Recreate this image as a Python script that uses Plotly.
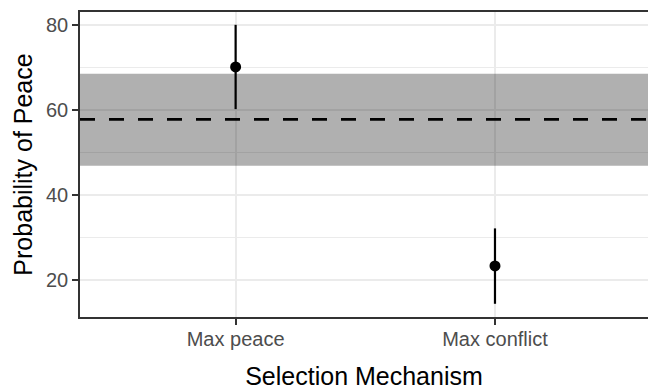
import plotly.graph_objects as go

categories = ["Max peace", "Max conflict"]
estimates = [70.1, 23.4]
upper = [80.0, 32.2]
lower = [60.2, 14.5]
baseline = 57.8
baseline_low = 46.9
baseline_high = 68.5

xpos = list(range(1, len(categories) + 1))
font_family = "Liberation Sans, Arial, sans-serif"

fig = go.Figure()

# error bars as line segments
for x, lo, hi in zip(xpos, lower, upper):
    fig.add_trace(go.Scatter(x=[x, x], y=[lo, hi], mode="lines",
                             line=dict(color="black", width=2.2), showlegend=False,
                             hoverinfo="skip"))
fig.add_trace(go.Scatter(x=xpos, y=estimates, mode="markers",
                         marker=dict(color="black", size=11), showlegend=False))

fig.add_shape(type="rect", xref="paper", x0=0, x1=1, yref="y",
              y0=baseline_low, y1=baseline_high, fillcolor="rgba(0,0,0,0.31)",
              line=dict(width=0), layer="above")
fig.add_shape(type="line", xref="paper", x0=0, x1=1, yref="y",
              y0=baseline, y1=baseline, line=dict(color="black", width=2.8, dash="15px,14px"),
              layer="above")

fig.update_layout(
    width=648, height=390,
    margin=dict(l=80, r=0, t=12, b=73),
    plot_bgcolor="white", paper_bgcolor="white",
    font=dict(family=font_family, color="black"),
    showlegend=False,
    xaxis=dict(
        tickmode="array", tickvals=xpos, ticktext=categories,
        range=[0.4, 2.59],
        showgrid=True, gridcolor="#EBEBEB", gridwidth=1.8,
        showline=True, linecolor="#333333", linewidth=1.6, mirror=True,
        ticks="outside", ticklen=6, tickcolor="#333333", tickwidth=1.6,
        ticklabelstandoff=-3,
        tickfont=dict(size=20, color="#4D4D4D", family=font_family),
        title=dict(text="Selection Mechanism", font=dict(size=25, color="black"), standoff=20),
        zeroline=False, automargin=False,
    ),
    yaxis=dict(
        range=[11.4, 83.0],
        tickvals=[20, 40, 60, 80],
        showgrid=True, gridcolor="#EBEBEB", gridwidth=1.8,
        minor=dict(tickvals=[30, 50, 70], showgrid=True, gridcolor="#EBEBEB", gridwidth=0.9, ticks=""),
        showline=True, linecolor="#333333", linewidth=1.6,
        ticks="outside", ticklen=6, tickcolor="#333333", tickwidth=1.6,
        tickfont=dict(size=20, color="#4D4D4D", family=font_family),
        title=dict(text="Probability of Peace", font=dict(size=25, color="black"), standoff=6),
        zeroline=False, automargin=False,
    ),
)

fig.write_html("out.html")
